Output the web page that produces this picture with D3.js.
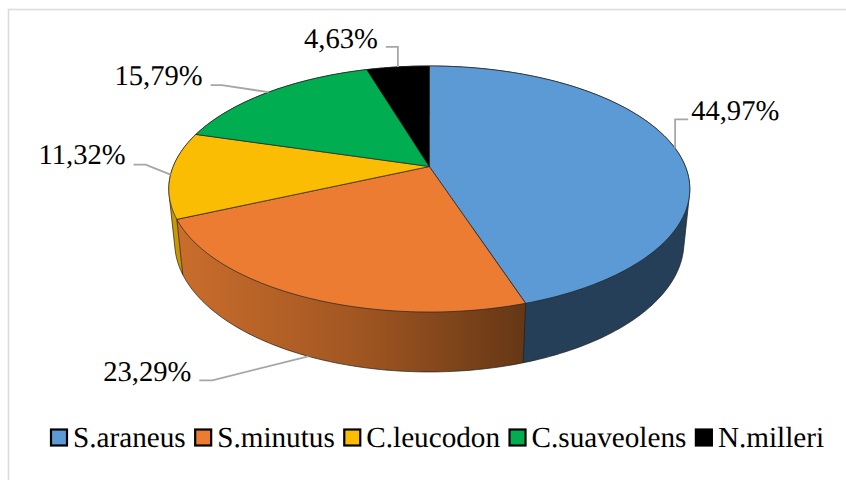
<!DOCTYPE html>
<html>
<head>
<meta charset="utf-8">
<script src="https://cdn.jsdelivr.net/npm/d3@7"></script>
<style>
  html, body { margin: 0; padding: 0; background: #fff; overflow: hidden; }
  svg { display: block; }
  text { font-family: "Liberation Serif", serif; fill: #000; text-rendering: geometricPrecision; }
  .labels text { font-size: 28.6px; }
  .legend text { font-size: 29.2px; }
</style>
</head>
<body>
<div id="chart-area"><svg></svg></div>
<script>
const species = ["S.araneus", "S.minutus", "C.leucodon", "C.suaveolens", "N.milleri"];
const shares = [44.97, 23.29, 11.32, 15.79, 4.63];
const colors = ["#5b9ad5", "#eb7c32", "#fbbd04", "#00ad50", "#000000"];
const wallColors = ["#253f58", "url(#orange-wall)", "#c99700", "#00733a", "#000000"];

const chartSize = { width: 846, height: 480 };
const apex = { x: 429.3, y: 166.5 };

// perspective of the tilted disc: top rim at depth 0, bottom rim at depth 1
const view = { a: 256.1, b: 118.9, k: 0.183, drop: 53.5, shrink: 0.0222 };

const project = (angle, depth) => {
  const px = Math.sin(angle);
  const py = -Math.cos(angle);
  const d = 1 - view.k * py + depth * view.shrink;
  return [
    apex.x + (view.a * px) / d,
    apex.y + (view.b * py + depth * view.drop) / d
  ];
};

const rim = (start, end, depth) => {
  const steps = Math.max(2, Math.ceil((end - start) / 0.02));
  return d3.range(steps + 1).map(i => project(start + ((end - start) * i) / steps, depth));
};

// leader elbow offsets from the rim point, then the stub and the label anchor
const labelLayout = [
  { dx: 0, dy: -29, stub: 13, gap: 3, base: 1 },
  { dx: -96, dy: 24, stub: -13, gap: -8, base: 1 },
  { dx: -25, dy: -10, stub: -12, gap: -8, base: -1 },
  { dx: -47, dy: -7, stub: -11, gap: -8, base: 0 },
  { dx: 0, dy: -20, stub: -12, gap: -8, base: 1 }
];

const formatShare = v => v.toFixed(2).replace(".", ",") + "%";

const drawChart = () => {
  const svg = d3
    .select("#chart-area svg")
    .attr("width", chartSize.width)
    .attr("height", chartSize.height);

  svg
    .append("rect")
    .attr("x", 8.5)
    .attr("y", 9.5)
    .attr("width", 900)
    .attr("height", 600)
    .attr("fill", "#fff")
    .attr("stroke", "#dcdcdc")
    .attr("stroke-width", 1.6);

  const gradient = svg
    .append("defs")
    .append("linearGradient")
    .attr("id", "orange-wall")
    .attr("gradientUnits", "userSpaceOnUse")
    .attr("x1", 180)
    .attr("x2", 525)
    .attr("y1", 0)
    .attr("y2", 0);
  gradient.append("stop").attr("offset", "0").attr("stop-color", "#c96d2c");
  gradient.append("stop").attr("offset", "0.5").attr("stop-color", "#a35722");
  gradient.append("stop").attr("offset", "1").attr("stop-color", "#653715");

  const slices = d3
    .pie()
    .sort(null)
    .value(d => d)(shares);

  const line = d3.line();

  // walls: back slices first so that the front ones cover them
  const wallOrder = [4, 3, 2, 0, 1];
  svg
    .append("g")
    .attr("class", "walls")
    .selectAll("path")
    .data(wallOrder)
    .enter()
    .append("path")
    .attr("d", i => {
      const s = slices[i];
      const top = rim(s.startAngle, s.endAngle, 0);
      const bottom = rim(s.startAngle, s.endAngle, 1);
      return line(d3.polygonHull(top.concat(bottom))) + "Z";
    })
    .attr("fill", i => wallColors[i])
    .attr("stroke", "#1c1c1c")
    .attr("stroke-width", 0.7)
    .attr("stroke-linejoin", "round");

  svg
    .append("g")
    .attr("class", "faces")
    .selectAll("path")
    .data(slices)
    .enter()
    .append("path")
    .attr("d", s => line([[apex.x, apex.y]].concat(rim(s.startAngle, s.endAngle, 0))) + "Z")
    .attr("fill", (s, i) => colors[i])
    .attr("stroke", "#222")
    .attr("stroke-width", 0.7)
    .attr("stroke-linejoin", "round");

  const labels = svg.append("g").attr("class", "labels");
  slices.forEach((s, i) => {
    const layout = labelLayout[i];
    const mid = (s.startAngle + s.endAngle) / 2;
    // the front slice's leader leaves from the bottom rim
    const from = project(mid, i === 1 ? 1 : 0);
    const elbow = [from[0] + layout.dx, from[1] + layout.dy];
    const end = [elbow[0] + layout.stub, elbow[1]];

    labels
      .append("path")
      .attr("d", line([from, elbow, end]))
      .attr("fill", "none")
      .attr("stroke", "#a6a6a6")
      .attr("stroke-width", 1.8);

    labels
      .append("text")
      .attr("x", end[0] + layout.gap)
      .attr("y", end[1] + layout.base)
      .attr("text-anchor", layout.stub > 0 ? "start" : "end")
      .text(formatShare(shares[i]));
  });

  // legend: items follow each other by measured text width
  const legend = svg.append("g").attr("class", "legend");
  let x = 51;
  species.forEach((name, i) => {
    legend
      .append("rect")
      .attr("x", x)
      .attr("y", 429.5)
      .attr("width", 16)
      .attr("height", 16)
      .attr("fill", colors[i])
      .attr("stroke", "#000")
      .attr("stroke-width", 2.2);
    const label = legend
      .append("text")
      .attr("x", x + 22)
      .attr("y", 447)
      .text(name);
    x += 22 + label.node().getComputedTextLength() + 9.5;
  });
};

window.onload = drawChart;
</script>
</body>
</html>
